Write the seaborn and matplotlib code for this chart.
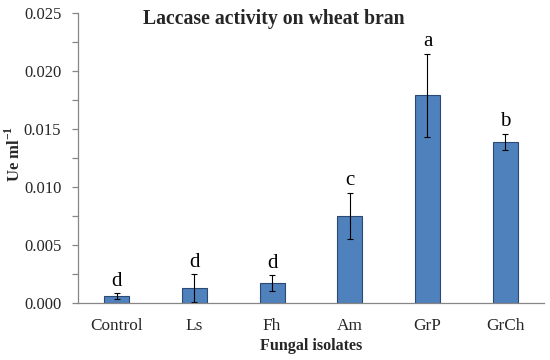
import matplotlib
matplotlib.use("Agg")
import matplotlib.pyplot as plt
import seaborn as sns
import pandas as pd
import numpy as np
from matplotlib.ticker import MultipleLocator

categories = ["Control", "Ls", "Fh", "Am", "GrP", "GrCh"]
values = [0.00058, 0.0013, 0.0017, 0.0075, 0.0179, 0.0139]
errors = [0.00025, 0.0012, 0.0007, 0.0020, 0.0036, 0.0007]
letters = ["d", "d", "d", "c", "a", "b"]

sns.set_theme(style="white")
plt.rcParams['font.family'] = ['Liberation Serif', 'DejaVu Serif']
plt.rcParams['mathtext.fontset'] = 'custom'
plt.rcParams['mathtext.rm'] = 'Liberation Serif:bold'
plt.rcParams['mathtext.bf'] = 'Liberation Serif:bold'

df = pd.DataFrame({"isolate": categories, "activity": values})

fig = plt.figure(figsize=(5.5, 3.6), dpi=100)
ax = fig.add_axes([0.1418, 0.1583, 0.989 - 0.1418, 0.9639 - 0.1583])

sns.barplot(data=df, x="isolate", y="activity", ax=ax, color="#4F81BD",
            saturation=1, width=0.32, edgecolor="#2A4A73", linewidth=0.8)
xs = np.arange(len(categories))
ax.errorbar(xs, values, yerr=errors, fmt="none", ecolor="black",
            elinewidth=0.8, capsize=2, capthick=0.8)
for x, v, e, l in zip(xs, values, errors, letters):
    ax.text(x, v + e + 0.0002, l, ha="center", va="bottom", fontsize=15,
            color="black")

ax.set_ylim(0, 0.025)
ax.set_xlim(-0.5, 5.5)
ax.yaxis.set_major_locator(MultipleLocator(0.005))
ax.yaxis.set_minor_locator(MultipleLocator(0.0025))
ax.yaxis.set_major_formatter(matplotlib.ticker.FormatStrFormatter("%.3f"))
for s in ["top", "right"]:
    ax.spines[s].set_visible(False)
for s in ["left", "bottom"]:
    ax.spines[s].set_color("#868686")
    ax.spines[s].set_linewidth(0.9)
ax.tick_params(axis="y", which="both", left=True, length=4, width=0.9,
               color="#868686", labelsize=12, pad=8, direction="out")
ax.tick_params(axis="x", bottom=False, labelsize=12.4, pad=5)
ax.set_xlabel("Fungal isolates", fontsize=11.6, fontweight="bold", labelpad=3)
ax.set_ylabel(r"Ue ml$^{-1}$", fontsize=12, fontweight="bold")
ax.yaxis.set_label_coords(-0.116, 0.514)
fig.text(0.498, 0.948, "Laccase activity on wheat bran", ha="center", va="center",
         fontsize=14.2, fontweight="bold")
ax.set_facecolor("white")

fig.savefig("out.png", dpi=100)
